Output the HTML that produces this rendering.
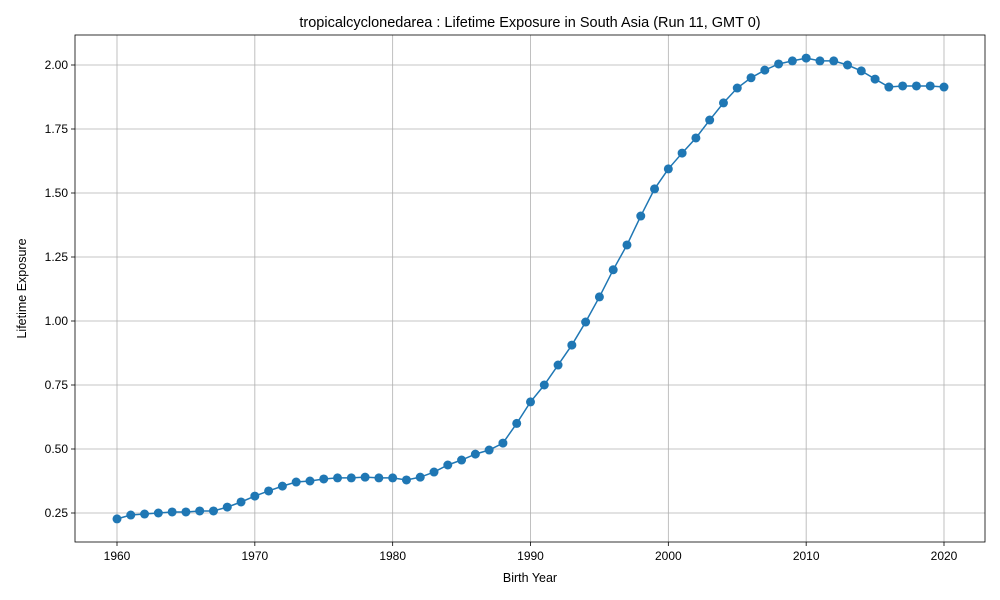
<!DOCTYPE html>
<html><head><meta charset="utf-8"><style>
html,body{margin:0;padding:0;background:#fff;}
svg{display:block;font-family:"Liberation Sans","DejaVu Sans",sans-serif;}
</style></head><body>
<svg id="chart" width="1000" height="600"></svg>
<script>
const years = [];
for (let y = 1960; y <= 2020; y++) years.push(y);
const exposure = [0.227,0.242,0.246,0.25,0.254,0.254,0.258,0.258,0.273,0.293,
0.316,0.336,0.355,0.371,0.375,0.383,0.387,0.387,0.39,0.387,
0.387,0.379,0.39,0.41,0.4375,0.457,0.48,0.496,0.523,0.60,
0.684,0.75,0.828,0.906,0.996,1.094,1.2,1.297,1.41,1.516,
1.594,1.656,1.715,1.785,1.852,1.91,1.95,1.98,2.004,2.016,
2.027,2.016,2.016,2.0,1.977,1.945,1.914,1.918,1.918,1.918,1.914];
const xTicks = [1960,1970,1980,1990,2000,2010,2020];
const yTicks = [0.25,0.5,0.75,1.0,1.25,1.5,1.75,2.0];

const NS = "http://www.w3.org/2000/svg";
const svg = document.getElementById('chart');
const L=75, R=985, T=35, B=542;
const xs = v => 117 + (v-1960)*(944-117)/60;
const ys = v => 513 - (v-0.25)*(513-65)/1.75;
function mk(tag, attrs, parent){const e=document.createElementNS(NS,tag);for(const k in attrs)e.setAttribute(k,attrs[k]);(parent||svg).appendChild(e);return e;}

// grid
xTicks.forEach(t=>{
  const g=mk('line',{x1:xs(t),x2:xs(t),y1:T,y2:B,stroke:'#b0b0b0','stroke-width':0.8});
  
  
  mk('line',{x1:xs(t),x2:xs(t),y1:B,y2:B+4,stroke:'#000','stroke-width':0.8});
  const tx=mk('text',{x:xs(t),y:B+18,'text-anchor':'middle','font-size':12,fill:'#000'});
  tx.textContent=t;
  
  
});
yTicks.forEach(t=>{
  const g=mk('line',{x1:L,x2:R,y1:ys(t),y2:ys(t),stroke:'#b0b0b0','stroke-width':0.8});
  
  
  mk('line',{x1:L-4,x2:L,y1:ys(t),y2:ys(t),stroke:'#000','stroke-width':0.8});
  const tx=mk('text',{x:L-7,y:ys(t)+4,'text-anchor':'end','font-size':12,fill:'#000'});
  tx.textContent=t.toFixed(2);
  
  
});

// line
const pts = years.map((y,i)=>xs(y)+','+ys(exposure[i])).join(' ');
const line = mk('polyline',{points:pts,fill:'none',stroke:'#1f77b4','stroke-width':1.5});


years.forEach((y,i)=>{
  const c=mk('circle',{cx:xs(y),cy:ys(exposure[i]),r:4.5,fill:'#1f77b4'});
  
  
});

// frame
const fr=mk('rect',{x:L,y:T,width:R-L,height:B-T,fill:'none',stroke:'#000','stroke-width':0.8});



// titles
const title=mk('text',{x:(L+R)/2,y:27,'text-anchor':'middle','font-size':14.5,fill:'#000'});
title.textContent='tropicalcyclonedarea : Lifetime Exposure in South Asia (Run 11, GMT 0)';


const xl=mk('text',{x:(L+R)/2,y:582,'text-anchor':'middle','font-size':12.5,fill:'#000'});
xl.textContent='Birth Year';


const yl=mk('text',{x:26,y:(T+B)/2,'text-anchor':'middle','font-size':12.5,fill:'#000',transform:'rotate(-90 26 '+((T+B)/2)+')'});
yl.textContent='Lifetime Exposure';


</script>
</body></html>
